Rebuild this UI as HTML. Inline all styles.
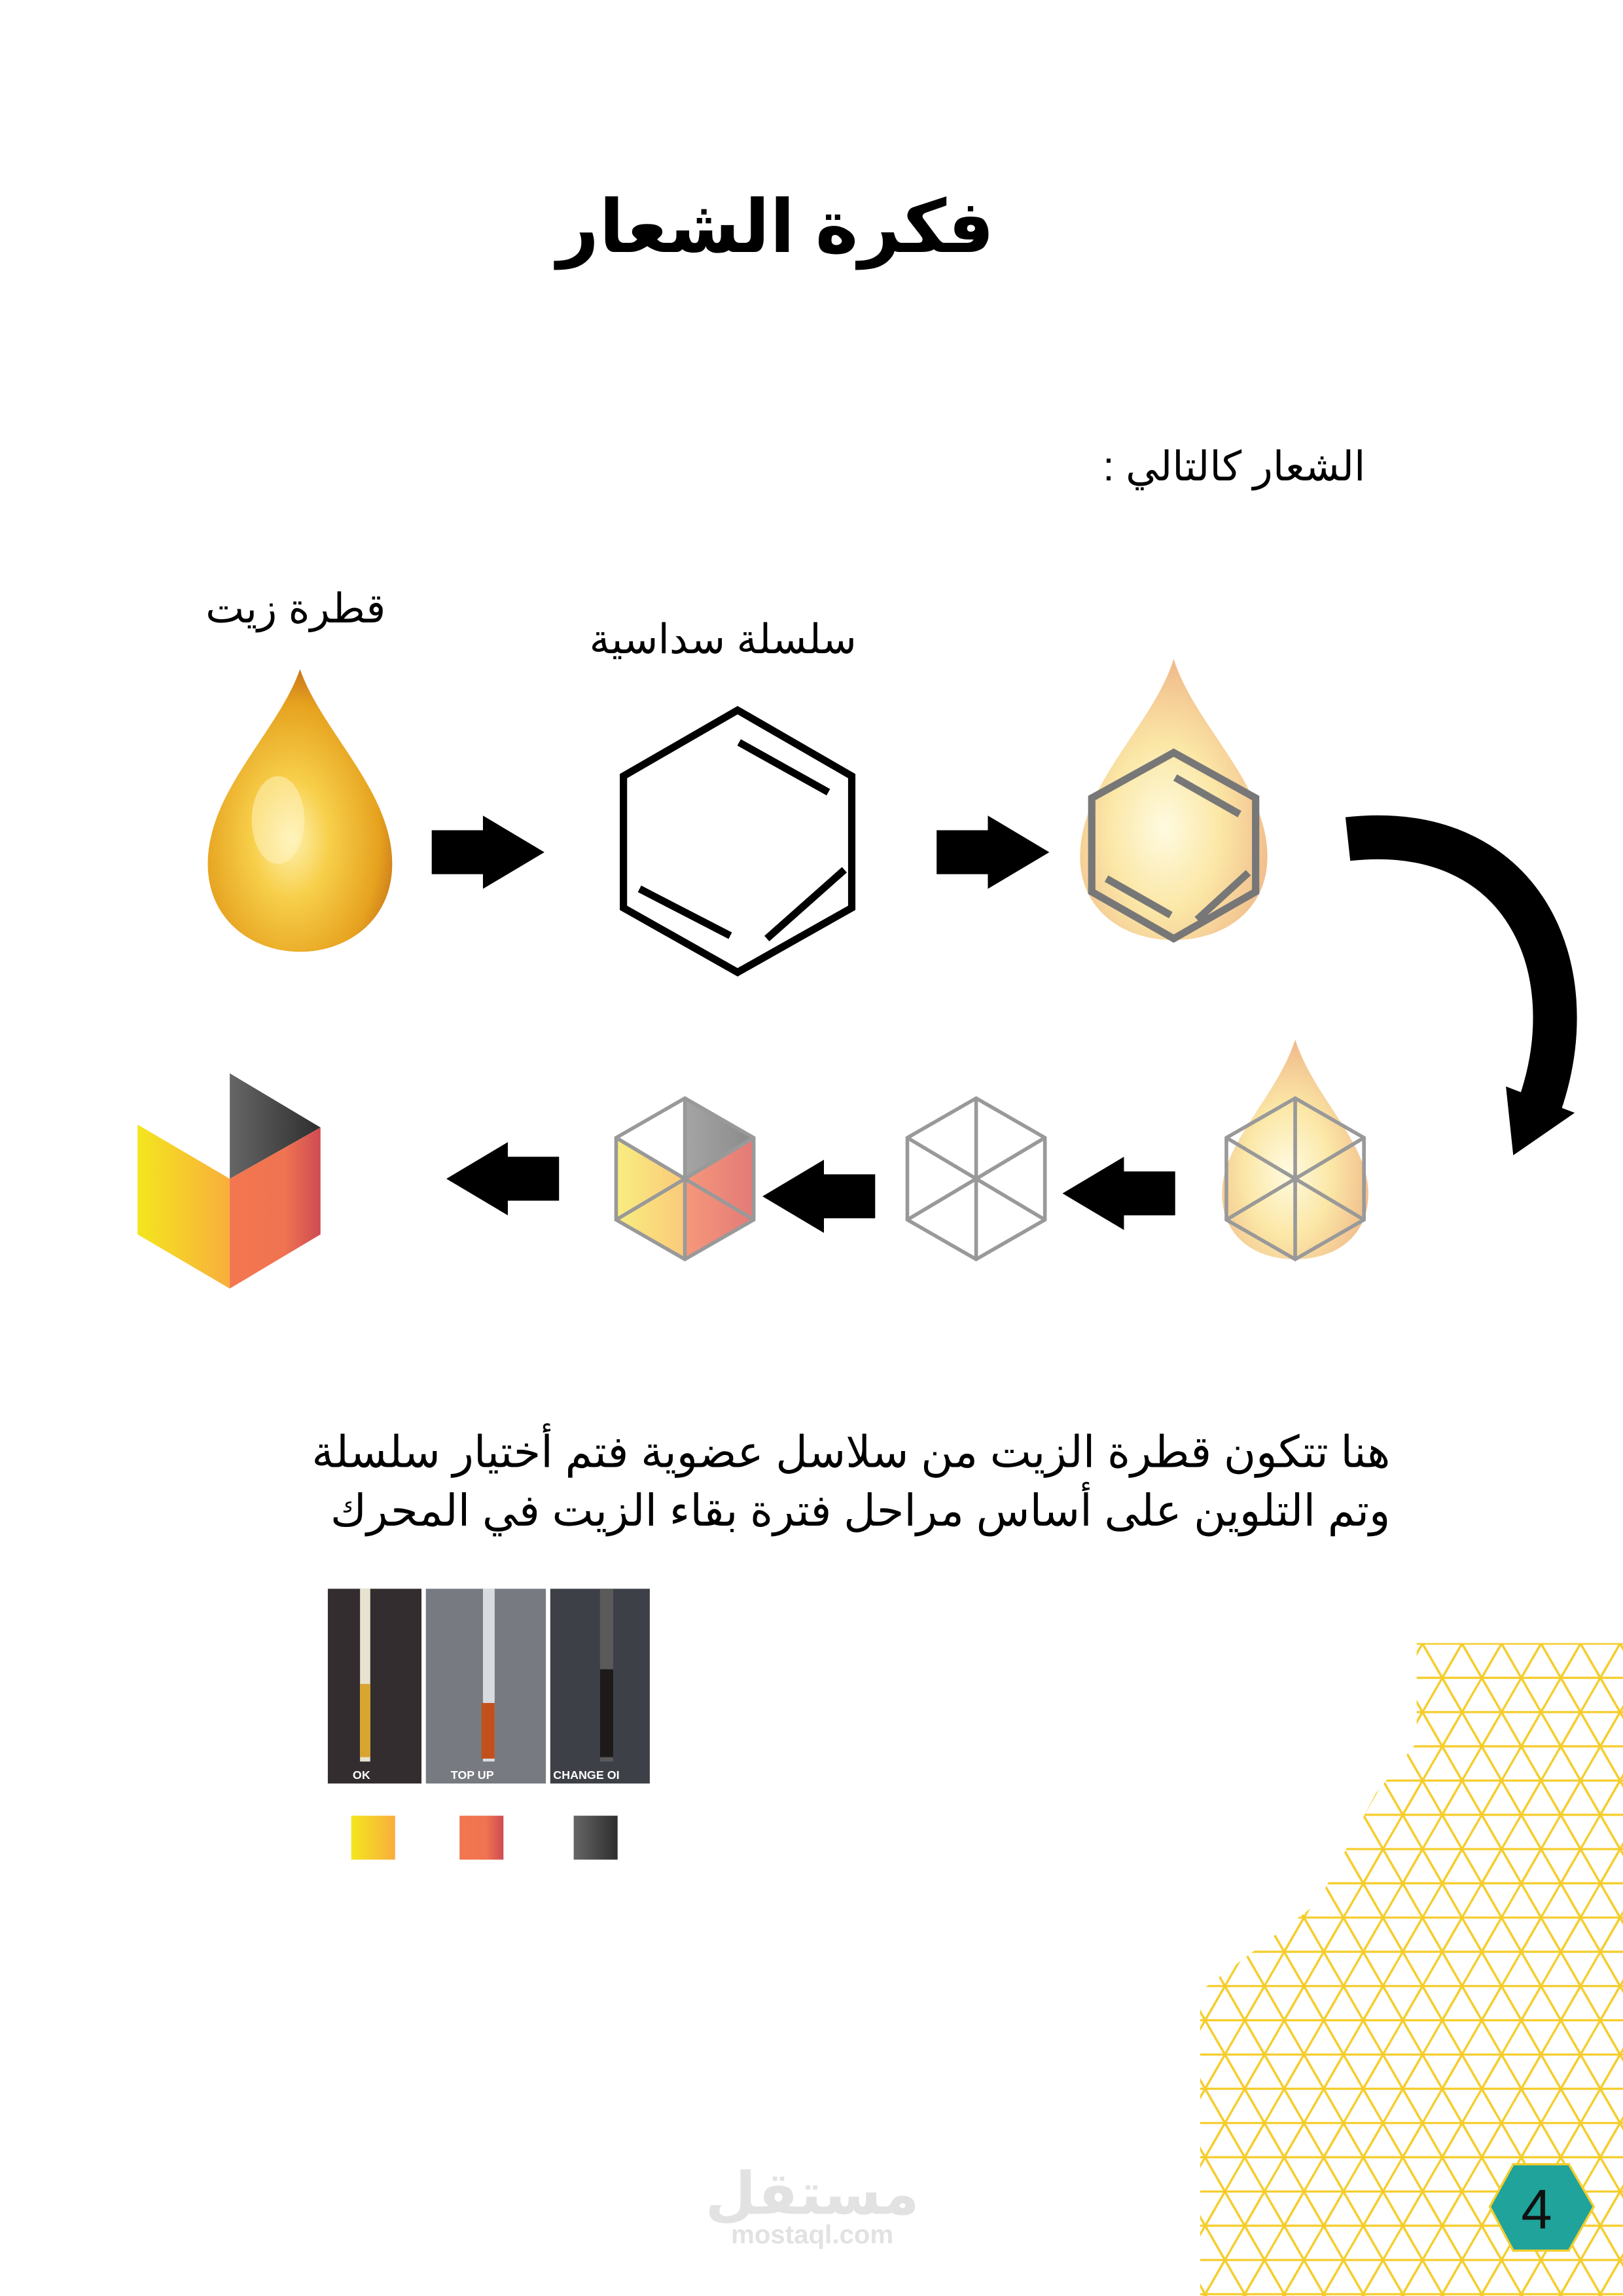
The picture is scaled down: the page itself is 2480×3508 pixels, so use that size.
<!DOCTYPE html>
<html><head><meta charset="utf-8"><style>
html,body{margin:0;padding:0;background:#fff;}
svg{display:block;}
text{font-family:"Liberation Sans","DejaVu Sans","Noto Sans CJK SC",sans-serif;}
</style></head><body>
<svg width="2480" height="3508" viewBox="0 0 1109 1568" preserveAspectRatio="none" xmlns="http://www.w3.org/2000/svg">
<defs>
<radialGradient id="gold" cx="0.45" cy="0.6" r="0.6">
<stop offset="0" stop-color="#fff2b0"/><stop offset="0.35" stop-color="#f7cf4a"/><stop offset="0.8" stop-color="#e6a21f"/><stop offset="1" stop-color="#c9771a"/></radialGradient>
<radialGradient id="pale" cx="0.45" cy="0.6" r="0.6">
<stop offset="0" stop-color="#fffbe0"/><stop offset="0.5" stop-color="#fbe7a6"/><stop offset="1" stop-color="#f0b98a"/></radialGradient>
<linearGradient id="yel" x1="0" x2="1"><stop offset="0" stop-color="#f3e61e"/><stop offset="1" stop-color="#f9ae3c"/></linearGradient>
<linearGradient id="ora" x1="0" x2="1"><stop offset="0" stop-color="#f37650"/><stop offset="0.6" stop-color="#f07451"/><stop offset="1" stop-color="#cf4b52"/></linearGradient>
<linearGradient id="gry" x1="0" x2="1"><stop offset="0" stop-color="#666"/><stop offset="1" stop-color="#2e2e2e"/></linearGradient>
<linearGradient id="yelp" x1="0" x2="1"><stop offset="0" stop-color="#f8ee80"/><stop offset="1" stop-color="#fbc97a"/></linearGradient>
<linearGradient id="orap" x1="0" x2="1"><stop offset="0" stop-color="#f6987a"/><stop offset="1" stop-color="#e37a78"/></linearGradient>
<linearGradient id="gryp" x1="0" x2="1"><stop offset="0" stop-color="#a5a5a5"/><stop offset="1" stop-color="#8a8a8a"/></linearGradient>
<pattern id="tri" width="27" height="46.77" patternUnits="userSpaceOnUse">
<g stroke="#f5cd2c" stroke-width="1.5" fill="none">
<path d="M0 0H27M0 23.38H27M0 46.77H27"/>
<path d="M0 0L13.5 23.38L27 0M0 46.77L13.5 23.38L27 46.77"/>
<path d="M-13.5 23.38L0 46.77M13.5 23.38L27 46.77M-13.5 23.38L0 0M13.5 23.38L0 0M27 0L40.5 23.38M13.5 23.38L27 0"/>
</g></pattern>
<clipPath id="hc"><polygon points="968,1122 1109,1122 1109,1568 820,1568 820,1360 900,1300 940,1225 968,1190"/></clipPath>
</defs>

<text x="530" y="172" font-size="50" font-weight="bold" text-anchor="middle">فكرة الشعار</text>
<text x="933" y="328" font-size="28" text-anchor="end">&#x202B;الشعار كالتالي :&#x202C;</text>
<text x="202" y="425" font-size="28" text-anchor="middle">قطرة زيت</text>
<text x="494" y="446" font-size="28" text-anchor="middle">سلسلة سداسية</text>

<path d="M205 457 C190 500 142 540 142 590 C142 628 172 650 205 650 C238 650 268 628 268 590 C268 540 220 500 205 457Z" fill="url(#gold)"/>
<ellipse cx="190" cy="560" rx="18" ry="30" fill="#fff6c8" opacity="0.5"/>
<polygon points="295,567 330,567 330,557 372,582 330,607 330,597 295,597"/>
<polygon points="504,485 582,530 582,620 504,664 426,620 426,530" fill="none" stroke="#000" stroke-width="5"/>
<g stroke="#000" stroke-width="5"><line x1="505" y1="507" x2="566" y2="541"/><line x1="437" y1="607" x2="499" y2="639"/><line x1="524" y1="641" x2="577" y2="594"/></g>
<polygon points="640,567 675,567 675,557 717,582 675,607 675,597 640,597"/>
<path d="M802 450 C788 495 738 535 738 585 C738 622 768 642 802 642 C836 642 866 622 866 585 C866 535 816 495 802 450Z" fill="url(#pale)"/>
<polygon points="802,514 858,545 858,609 802,641 746,609 746,545" fill="none" stroke="#777" stroke-width="5"/>
<g stroke="#777" stroke-width="5"><line x1="803" y1="531" x2="847" y2="556"/><line x1="756" y1="600" x2="800" y2="625"/><line x1="818" y1="628" x2="853" y2="596"/></g>
<path d="M921 573 C1040 560 1085 660 1052 755" fill="none" stroke="#000" stroke-width="30"/>
<polygon points="1029,742 1076,760 1034,789"/>

<path d="M885 710 C872 750 835 780 835 815 C835 845 858 860 885 860 C912 860 935 845 935 815 C935 780 898 750 885 710Z" fill="url(#pale)"/>
<g fill="none" stroke="#999" stroke-width="2.5">
<polygon points="885,750 932,777 932,833 885,860 838,833 838,777"/>
<line x1="885" y1="750" x2="885" y2="860"/><line x1="838" y1="777" x2="932" y2="833"/><line x1="932" y1="777" x2="838" y2="833"/></g>
<polygon points="803,800 768,800 768,790 726,815 768,840 768,830 803,830"/>
<g fill="none" stroke="#999" stroke-width="2.5">
<polygon points="667,750 714,777 714,833 667,860 620,833 620,777"/>
<line x1="667" y1="750" x2="667" y2="860"/><line x1="620" y1="777" x2="714" y2="833"/><line x1="714" y1="777" x2="620" y2="833"/></g>
<polygon points="598,802 563,802 563,792 521,817 563,842 563,832 598,832"/>
<polygon points="468,750 515,777 468,805" fill="url(#gryp)"/>
<polygon points="468,805 515,777 515,833 468,860" fill="url(#orap)"/>
<polygon points="468,805 421,777 421,833 468,860" fill="url(#yelp)"/>
<g fill="none" stroke="#999" stroke-width="2.5">
<polygon points="468,750 515,777 515,833 468,860 421,833 421,777"/>
<line x1="468" y1="750" x2="468" y2="860"/><line x1="421" y1="777" x2="515" y2="833"/><line x1="515" y1="777" x2="421" y2="833"/></g>
<polygon points="382,790 347,790 347,780 305,805 347,830 347,820 382,820"/>
<polygon points="157,733 219,770 157,805" fill="url(#gry)"/>
<polygon points="94,768 157,805 157,880 94,843" fill="url(#yel)"/>
<polygon points="157,805 219,770 219,843 157,880" fill="url(#ora)"/>

<text x="950" y="1002" font-size="30" text-anchor="end">هنا تتكون قطرة الزيت من سلاسل عضوية فتم أختيار سلسلة</text>
<text x="950" y="1042" font-size="30" text-anchor="end">وتم التلوين على أساس مراحل فترة بقاء الزيت في المحرك</text>

<rect x="224" y="1085" width="64" height="133" fill="#332d30"/>
<rect x="246" y="1085" width="7" height="118" fill="#e8e2d0"/><rect x="246" y="1150" width="7" height="50" fill="#d9a530"/>
<rect x="291" y="1085" width="82" height="133" fill="#777a80"/>
<rect x="330" y="1085" width="8" height="118" fill="#d8dbe0"/><rect x="329" y="1163" width="9" height="38" fill="#c2501c"/>
<rect x="376" y="1085" width="68" height="133" fill="#3e4048"/>
<rect x="410" y="1085" width="9" height="118" fill="#5a5a5a"/><rect x="410" y="1140" width="9" height="60" fill="#1e1a1a"/>
<g fill="#fff" font-size="8" font-weight="bold"><text x="241" y="1215">OK</text><text x="308" y="1215">TOP UP</text><text x="378" y="1215">CHANGE OI</text></g>
<rect x="240" y="1240" width="30" height="30" fill="url(#yel)"/>
<rect x="314" y="1240" width="30" height="30" fill="url(#ora)"/>
<rect x="392" y="1240" width="30" height="30" fill="url(#gry)"/>

<rect x="800" y="1100" width="320" height="480" fill="url(#tri)" clip-path="url(#hc)"/>

<text x="555" y="1512" font-size="40" font-weight="bold" fill="#e2e2e2" text-anchor="middle">مستقل</text>
<text x="555" y="1532" font-size="18" font-weight="bold" fill="#e2e2e2" text-anchor="middle">mostaql.com</text>

<polygon points="1034,1478 1072,1478 1089,1507 1072,1537 1034,1537 1018,1507" fill="#1fa39a" stroke="#f5cd2c" stroke-width="1.5"/>
<text x="1050" y="1522" font-size="38" text-anchor="middle" fill="#111">4</text>
</svg>
</body></html>
